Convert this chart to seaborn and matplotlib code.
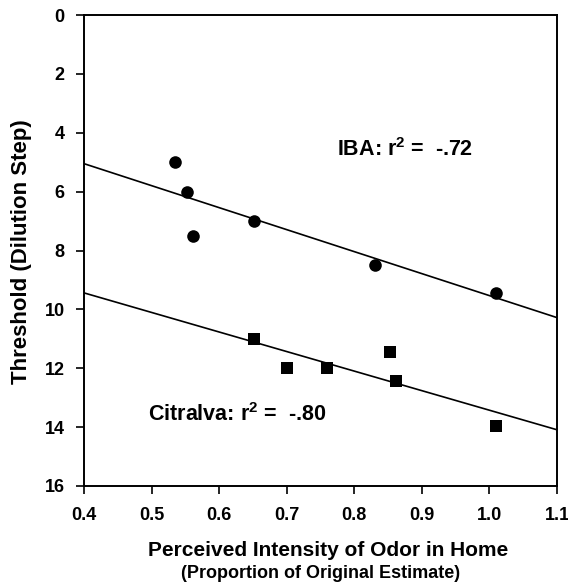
import matplotlib
matplotlib.use("Agg")
import matplotlib.pyplot as plt
import seaborn as sns
import pandas as pd

# ---- data ----
iba_x = [0.535, 0.553, 0.561, 0.651, 0.83, 1.01]
iba_y = [5.0, 6.0, 7.5, 7.0, 8.5, 9.45]
cit_x = [0.651, 0.70, 0.76, 0.853, 0.862, 1.01]
cit_y = [11.0, 12.0, 12.0, 11.45, 12.45, 13.95]
fit_x = [0.4, 1.1]
iba_fit_y = [5.05, 10.28]
cit_fit_y = [9.44, 14.09]
x_ticks = [0.4, 0.5, 0.6, 0.7, 0.8, 0.9, 1.0, 1.1]
x_ticklabels = ["0.4", "0.5", "0.6", "0.7", "0.8", "0.9", "1.0", "1.1"]
y_ticks = [0, 2, 4, 6, 8, 10, 12, 14, 16]

sns.set_style("ticks")
plt.rcParams['font.family'] = ['Liberation Sans', 'DejaVu Sans']
plt.rcParams['text.color'] = 'black'
plt.rcParams['axes.labelcolor'] = 'black'
plt.rcParams['mathtext.fontset'] = 'custom'
plt.rcParams['mathtext.rm'] = 'Liberation Sans:bold'
plt.rcParams['mathtext.it'] = 'Liberation Sans:bold'
plt.rcParams['mathtext.bf'] = 'Liberation Sans:bold'

W, H = 568, 587
fig = plt.figure(figsize=(W / 100, H / 100), dpi=100)
L, R, T, B = 84, 557, 15, 486
ax = fig.add_axes([L / W, 1 - B / H, (R - L) / W, (B - T) / H])

iba_df = pd.DataFrame({"x": iba_x, "y": iba_y})
cit_df = pd.DataFrame({"x": cit_x, "y": cit_y})
sns.lineplot(x=fit_x, y=iba_fit_y, ax=ax, color="black", linewidth=1.2)
sns.lineplot(x=fit_x, y=cit_fit_y, ax=ax, color="black", linewidth=1.2)
sns.scatterplot(data=iba_df, x="x", y="y", ax=ax, marker="o", s=82,
                color="black", edgecolor="black", linewidth=0, zorder=3)
sns.scatterplot(data=cit_df, x="x", y="y", ax=ax, marker="s", s=70,
                color="black", edgecolor="black", linewidth=0, zorder=3)

ax.set_xlim(0.4, 1.1)
ax.set_ylim(16, 0)
ax.set_xticks(x_ticks)
ax.set_xticklabels(x_ticklabels)
ax.set_yticks(y_ticks)
ax.tick_params(axis="both", direction="out", length=6, width=1.2,
               labelsize=13, colors="black")
ax.tick_params(axis="x", pad=9)
ax.tick_params(axis="y", pad=8)
for lab in ax.get_xticklabels() + ax.get_yticklabels():
    lab.set_fontweight("bold")
for s in ax.spines.values():
    s.set_linewidth(1.4)
    s.set_color("black")
ax.set_xlabel("")
ax.set_ylabel("")

ax.text(0.774, 4.58, r"IBA: r$^\mathrm{2}$ =  -.72", fontsize=15.5,
        fontweight="bold", va="center", ha="left", color="black")
ax.text(0.495, 13.56, r"Citralva: r$^\mathrm{2}$ =  -.80", fontsize=15.5,
        fontweight="bold", va="center", ha="left", color="black")

fig.text(22 / W, 1 - 252 / H, "Threshold (Dilution Step)", rotation=90,
         fontsize=16, fontweight="bold", ha="center", va="center",
         color="black")
fig.text(328 / W, 1 - 551 / H, "Perceived Intensity of Odor in Home",
         fontsize=15, fontweight="bold", ha="center", va="center",
         color="black")
fig.text(321 / W, 1 - 574 / H, "(Proportion of Original Estimate)",
         fontsize=13, fontweight="bold", ha="center", va="center",
         color="black")

fig.savefig("out.png", dpi=100)
